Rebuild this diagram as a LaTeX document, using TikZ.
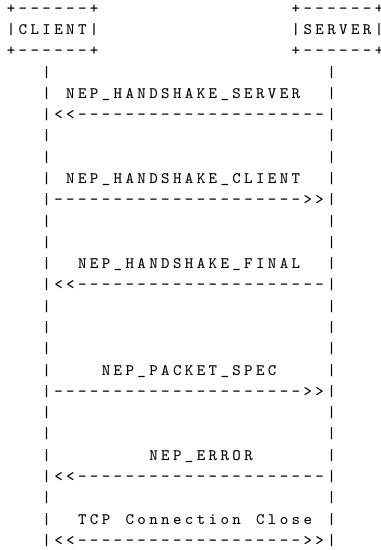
\documentclass[tikz,border=0pt]{standalone}
\usepackage{fontspec}
\usepackage{tikz}

\newlength{\cellw}
\setlength{\cellw}{5.935pt}
\newcommand{\gridtext}[1]{\gridtextA#1\relax}
\def\gridtextA#1{\ifx#1\relax\else\makebox[\cellw][c]{#1}\expandafter\gridtextA\fi}

\begin{document}
\begin{tikzpicture}[x=5.935pt, y={(0pt,-10.64pt)},
  asc/.style={anchor=base west, inner sep=0pt, outer sep=0pt,
    font=\ttfamily\fontsize{8}{9}\selectfont\addfontfeatures{FakeBold=1.2}}]

\useasboundingbox (-0.435,-0.625) rectangle (31.578,25.221);

\node[asc] (clienttop) at (0,0) {\gridtext{+------+}};
\node[asc] (client) at (0,1) {\gridtext{|CLIENT|}};
\node[asc] (clientbot) at (0,2) {\gridtext{+------+}};

\node[asc] (servertop) at (24,0) {\gridtext{+------+}};
\node[asc] (server) at (24,1) {\gridtext{|SERVER|}};
\node[asc] (serverbot) at (24,2) {\gridtext{+------+}};

\foreach \r in {3,...,25} {
  \node[asc] (cl\r) at (3,\r) {\gridtext{|}};
  \node[asc] (sv\r) at (27,\r) {\gridtext{|}};
}

\node[asc] (hsserver) at (5,4) {\gridtext{NEP\_HANDSHAKE\_SERVER}};
\node[asc] (hsservermsg) at (4,5) {\gridtext{<<---------------------}};

\node[asc] (hsclient) at (5,8) {\gridtext{NEP\_HANDSHAKE\_CLIENT}};
\node[asc] (hsclientmsg) at (4,9) {\gridtext{--------------------->>}};

\node[asc] (hsfinal) at (6,12) {\gridtext{NEP\_HANDSHAKE\_FINAL}};
\node[asc] (hsfinalmsg) at (4,13) {\gridtext{<<---------------------}};

\node[asc] (pktspec) at (8,17) {\gridtext{NEP\_PACKET\_SPEC}};
\node[asc] (pktspecmsg) at (4,18) {\gridtext{--------------------->>}};

\node[asc] (neperror) at (12,21) {\gridtext{NEP\_ERROR}};
\node[asc] (neperrormsg) at (4,22) {\gridtext{<<---------------------}};

\node[asc] (tcpclose) at (6,24) {\gridtext{TCP}};
\node[asc] (tcpclose2) at (10,24) {\gridtext{Connection}};
\node[asc] (tcpclose3) at (21,24) {\gridtext{Close}};
\node[asc] (tcpclosemsg) at (4,25) {\gridtext{<<------------------->>}};

\end{tikzpicture}
\end{document}
